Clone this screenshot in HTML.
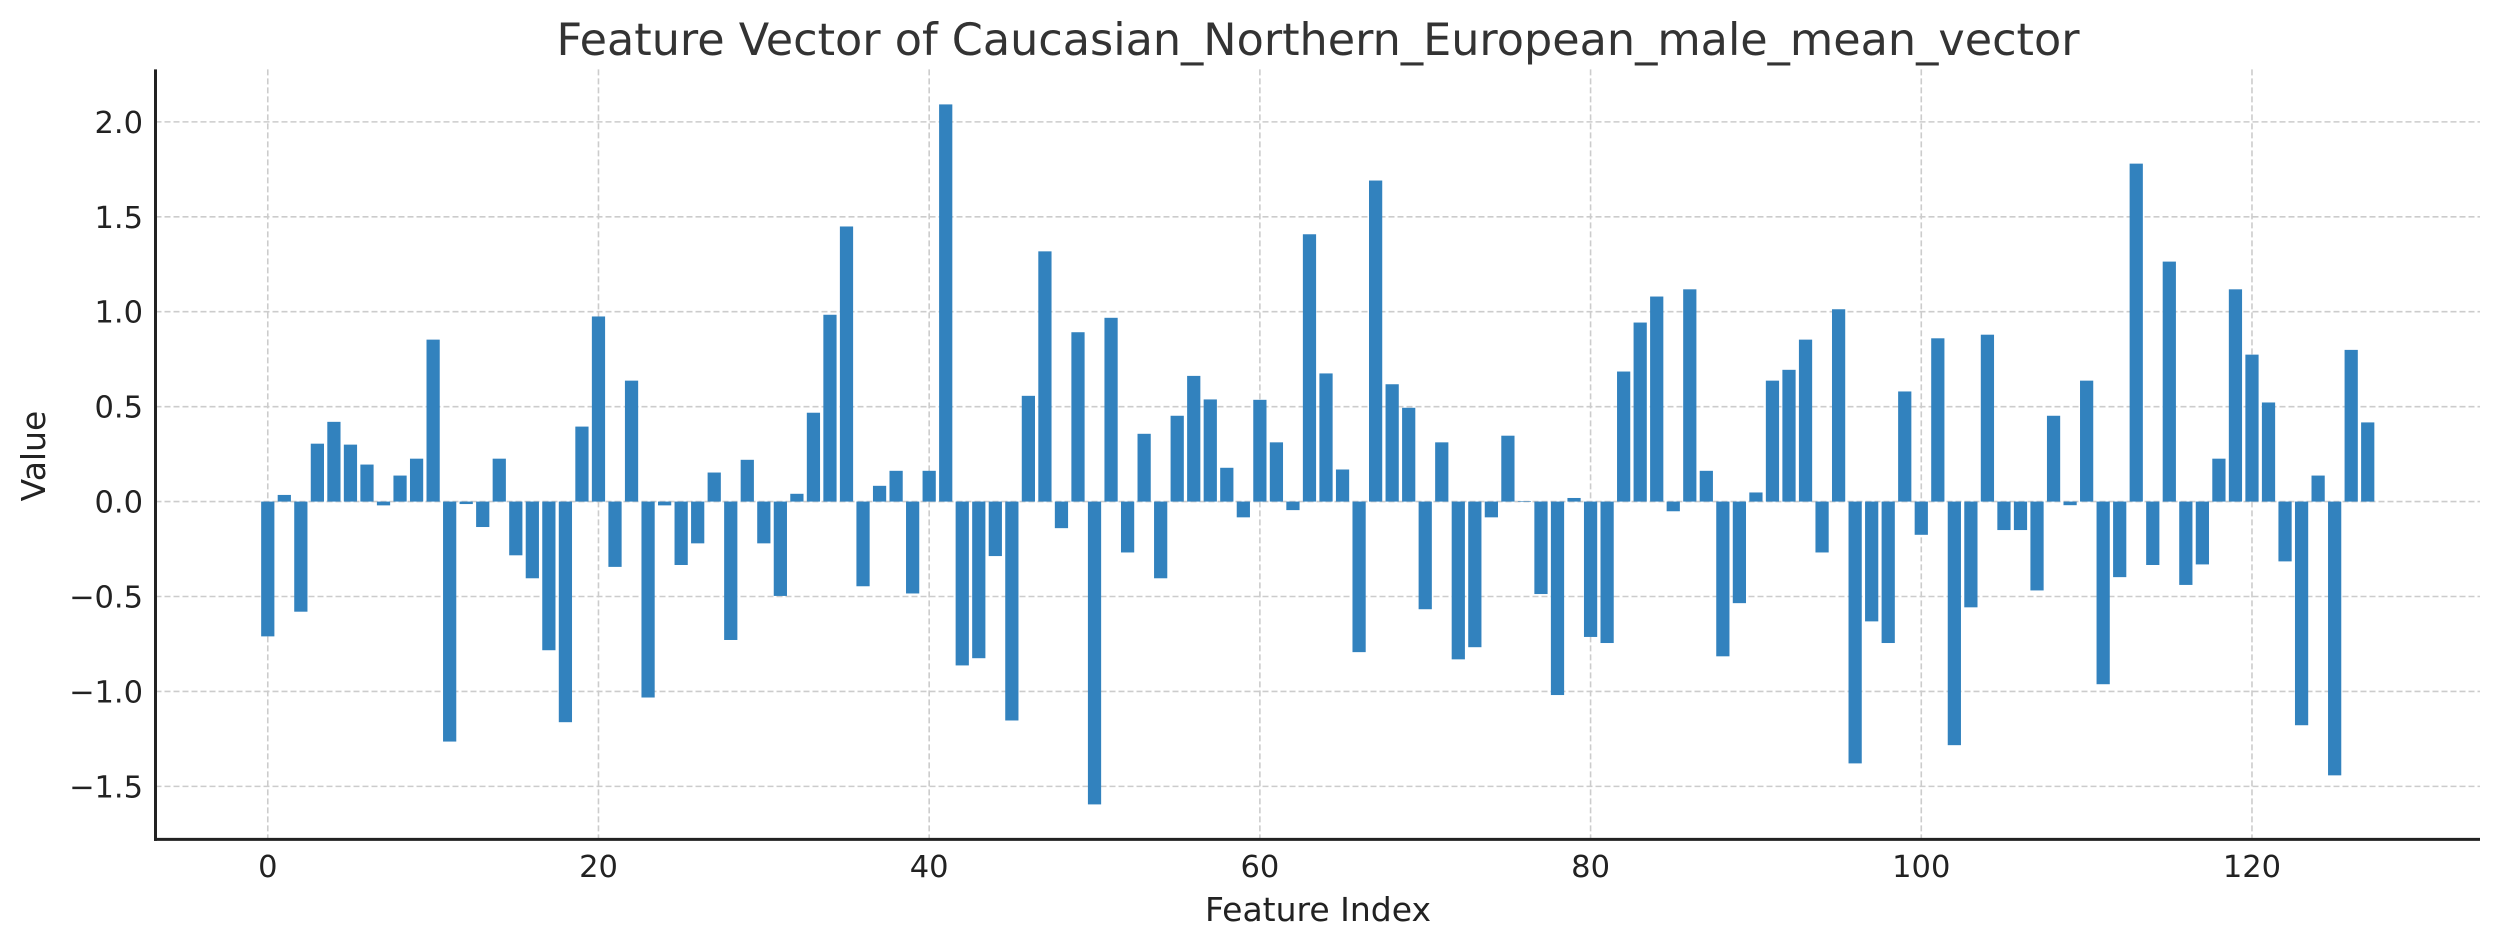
<!DOCTYPE html>
<html><head><meta charset="utf-8"><style>
html,body{margin:0;padding:0;background:#fff;}
svg{display:block;font-family:"DejaVu Sans","Liberation Sans",sans-serif;}
</style></head><body>
<svg id="chart" width="2500" height="947" viewBox="0 0 2500 947" xmlns="http://www.w3.org/2000/svg">
<rect width="2500" height="947" fill="#fff"/>
<text x="1318" y="55" text-anchor="middle" font-size="44.5" fill="#333">Feature Vector of Caucasian_Northern_European_male_mean_vector</text>
<g id="grid"></g>
<g id="bars"></g>
<g id="axes"></g>
<text x="1318" y="921" text-anchor="middle" font-size="33" fill="#222">Feature Index</text>
<text transform="translate(45,456) rotate(-90)" text-anchor="middle" font-size="33" fill="#222">Value</text>
</svg>
<script>
const values = [-0.71,0.035,-0.58,0.305,0.42,0.30,0.195,-0.02,0.137,0.226,0.853,-1.264,-0.013,-0.134,0.226,-0.283,-0.404,-0.783,-1.162,0.395,0.975,-0.344,0.637,-1.032,-0.02,-0.334,-0.22,0.153,-0.729,0.22,-0.22,-0.497,0.041,0.468,0.984,1.449,-0.446,0.083,0.162,-0.484,0.162,2.092,-0.863,-0.825,-0.287,-1.153,0.557,1.318,-0.14,0.892,-1.595,0.968,-0.268,0.357,-0.404,0.452,0.662,0.538,0.178,-0.083,0.536,0.312,-0.045,1.408,0.675,0.169,-0.793,1.691,0.618,0.494,-0.567,0.312,-0.831,-0.767,-0.083,0.347,0.003,-0.487,-1.019,0.019,-0.713,-0.745,0.685,0.943,1.08,-0.051,1.118,0.162,-0.815,-0.535,0.048,0.637,0.694,0.853,-0.268,1.013,-1.379,-0.631,-0.745,0.58,-0.175,0.86,-1.283,-0.557,0.879,-0.15,-0.15,-0.468,0.452,-0.019,0.637,-0.962,-0.398,1.78,-0.334,1.264,-0.439,-0.331,0.226,1.118,0.774,0.522,-0.315,-1.178,0.137,-1.442,0.799,0.417];
const xTicks = [0,20,40,60,80,100,120];
const yTicks = [-1.5,-1.0,-0.5,0.0,0.5,1.0,1.5,2.0];

const NS="http://www.w3.org/2000/svg";
const L=155.5,R=2480,T=69.4,B=839.4;
const n=values.length;
const xmin=-0.4-0.05*(n-0.2), xmax=(n-1)+0.4+0.05*(n-0.2);
let vmax=Math.max(...values), vmin=Math.min(...values);
const ypad=(vmax-vmin)*0.05;
const ymin=vmin-ypad, ymax=vmax+ypad;
const xs=v=>L+(v-xmin)/(xmax-xmin)*(R-L);
const ys=v=>B-(v-ymin)/(ymax-ymin)*(B-T);
const grid=document.getElementById('grid'), bars=document.getElementById('bars'), axes=document.getElementById('axes');
function mk(tag,attrs,parent){const e=document.createElementNS(NS,tag);for(const k in attrs)e.setAttribute(k,attrs[k]);parent.appendChild(e);return e;}

xTicks.forEach(t=>{
  const x=xs(t);
  const g=mk('line',{x1:x,x2:x,y1:T,y2:B,stroke:'#cccccc','stroke-width':1.6,'stroke-dasharray':'6,3'},grid);
  
  
  const tx=mk('text',{x:x,y:877,'text-anchor':'middle','font-size':30.5,fill:'#222'},axes);
  tx.textContent=String(t);
  
  
});
yTicks.forEach(t=>{
  const y=ys(t);
  const g=mk('line',{x1:L,x2:R,y1:y,y2:y,stroke:'#cccccc','stroke-width':1.6,'stroke-dasharray':'6,3'},grid);
  
  
  const tx=mk('text',{x:143,y:y+11,'text-anchor':'end','font-size':30.5,fill:'#222'},axes);
  tx.textContent=(t<0?'\u2212':'')+Math.abs(t).toFixed(1);
  
  
});
values.forEach((v,i)=>{
  const x0=xs(i-0.4), x1=xs(i+0.4);
  const y0=ys(Math.max(v,0)), y1=ys(Math.min(v,0));
  const r=mk('rect',{x:x0,y:y0,width:x1-x0,height:Math.max(y1-y0,0.5),fill:'#3282be'},bars);
  
  
});
const sl=mk('line',{x1:L,x2:L,y1:T,y2:B+1.5,stroke:'#222','stroke-width':3},axes);


const sb=mk('line',{x1:L-1.5,x2:R,y1:B,y2:B,stroke:'#222','stroke-width':3},axes);


</script>
</body></html>
